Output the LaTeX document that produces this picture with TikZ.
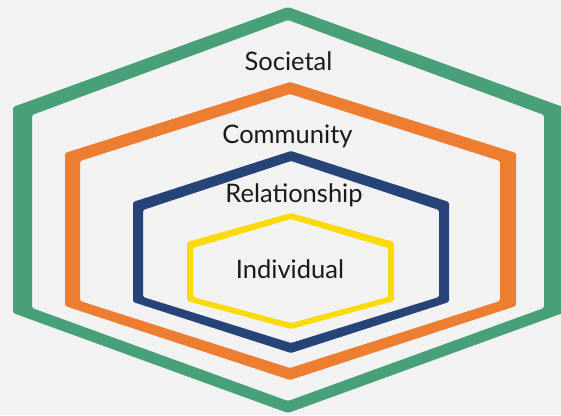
\documentclass[tikz,border=0pt]{standalone}
\usepackage{fontspec}
\setmainfont{Lato}
\definecolor{bggray}{HTML}{F2F2F2}
\definecolor{ringgreen}{HTML}{48A078}
\definecolor{ringorange}{HTML}{ED7D31}
\definecolor{ringblue}{HTML}{264478}
\definecolor{ringyellow}{HTML}{F9DA0C}
\definecolor{textgray}{HTML}{1A1A1A}

\begin{document}
\begin{tikzpicture}[x=1pt,y=-1pt]
        \tikzset{RingStyle/.style= {even odd rule, rounded corners=1.5pt}}
        \tikzset{LevelStyle/.style= {text=textgray, anchor=base, inner sep=0pt,
                 font=\fontsize{25.5}{30}\selectfont}}
        \fill[bggray] (0,0) rectangle (561,415);
        \useasboundingbox (0,0) rectangle (561,415);
        % Societal
        \fill[RingStyle, ringgreen]
                (288,7) -- (563,107) -- (563,313) -- (288,413) -- (13,313) -- (13,107) -- cycle
                (288,20) -- (544,115) -- (544,308) -- (288,401) -- (32,308) -- (32,115) -- cycle;
        % Community
        \fill[RingStyle, ringorange]
                (290,82) -- (516,153) -- (516,306) -- (290,380) -- (65,306) -- (65,153) -- cycle
                (290,94) -- (500,161) -- (500,301) -- (290,368) -- (80,301) -- (80,161) -- cycle;
        % Relationship
        \fill[RingStyle, ringblue]
                (291,151) -- (449,202) -- (449,302) -- (291,353) -- (133,302) -- (133,202) -- cycle
                (291,161) -- (439,210) -- (439,297) -- (291,343) -- (143,297) -- (143,210) -- cycle;
        % Individual
        \fill[RingStyle, ringyellow]
                (291,213) -- (394,242) -- (394,301) -- (291,329) -- (187,301) -- (187,242) -- cycle
                (291,219) -- (388,248) -- (388,297) -- (291,323) -- (193,297) -- (193,248) -- cycle;

        \node[LevelStyle] (societal) at (288.5,70) {Societal};
        \node[LevelStyle] (community) at (287.5,143) {Community};
        \node[LevelStyle] (relationship) at (294,202) {Relationship};
        \node[LevelStyle] (individual) at (290,278) {Individual};
\end{tikzpicture}
\end{document}
